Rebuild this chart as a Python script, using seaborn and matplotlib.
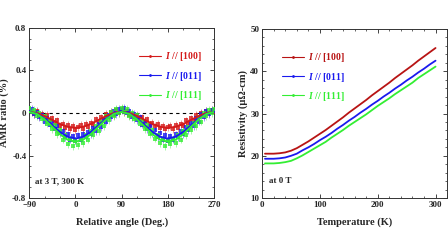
import matplotlib
matplotlib.use("Agg")
import matplotlib.pyplot as plt
import numpy as np
import pandas as pd
import seaborn as sns
from matplotlib import ticker
from matplotlib.lines import Line2D

# ---- data: AMR vs relative angle ----
angle = list(range(-90, 275, 5))
amr_100 = [0.03, 0.01, -0.01, 0.02, -0.03, -0.01, -0.05, -0.02, -0.07, -0.05, -0.09, -0.07, -0.12, -0.10,
           -0.14, -0.11, -0.15, -0.12, -0.16, -0.13, -0.11, -0.15, -0.10, -0.13, -0.09, -0.11, -0.06, -0.08,
           -0.04, -0.06, -0.01, -0.03, 0.01, -0.02, 0.03, 0.00, 0.04,
           0.01, 0.02, -0.02, -0.01, -0.04, -0.03, -0.06, -0.04, -0.08, -0.06, -0.11, -0.09, -0.12, -0.10,
           -0.14, -0.12, -0.15, -0.13, -0.12, -0.15, -0.11, -0.14, -0.10, -0.12, -0.07, -0.09, -0.05, -0.07,
           -0.02, -0.04, 0.00, -0.02, 0.02, 0.00, 0.03, 0.01]
amr_011 = [0.02, 0.04, -0.01, 0.01, -0.04, -0.02, -0.08, -0.05, -0.11, -0.09, -0.15, -0.12, -0.19, -0.17,
           -0.23, -0.20, -0.25, -0.22, -0.26, -0.21, -0.25, -0.20, -0.23, -0.18, -0.20, -0.14, -0.17, -0.10,
           -0.13, -0.06, -0.08, -0.02, -0.04, 0.02, -0.01, 0.04, 0.03,
           0.05, 0.00, 0.02, -0.04, -0.01, -0.07, -0.04, -0.11, -0.08, -0.15, -0.12, -0.19, -0.16, -0.23,
           -0.19, -0.25, -0.21, -0.26, -0.22, -0.25, -0.20, -0.23, -0.17, -0.20, -0.13, -0.16, -0.09, -0.12,
           -0.05, -0.08, -0.01, -0.04, 0.02, -0.01, 0.03, 0.02]
amr_111 = [0.05, 0.01, 0.03, -0.03, 0.00, -0.06, -0.03, -0.10, -0.07, -0.15, -0.11, -0.20, -0.16, -0.25,
           -0.21, -0.29, -0.24, -0.31, -0.26, -0.30, -0.24, -0.28, -0.21, -0.25, -0.17, -0.21, -0.12, -0.17,
           -0.08, -0.12, -0.03, -0.07, 0.01, -0.03, 0.04, 0.00, 0.05,
           0.01, 0.04, -0.03, 0.00, -0.06, -0.02, -0.10, -0.07, -0.15, -0.11, -0.20, -0.16, -0.24, -0.21,
           -0.28, -0.24, -0.31, -0.25, -0.29, -0.24, -0.28, -0.21, -0.25, -0.17, -0.21, -0.13, -0.16, -0.09,
           -0.12, -0.04, -0.08, 0.00, -0.03, 0.03, 0.00, 0.04]
amr_err = 0.035

fit_angle = list(range(-90, 285, 15))
fit_100 = [0.01, 0.0, -0.028, -0.065, -0.103, -0.13, -0.14, -0.13, -0.103, -0.065, -0.028, 0.0, 0.01,
           0.0, -0.028, -0.065, -0.103, -0.13, -0.14, -0.13, -0.103, -0.065, -0.028, 0.0, 0.01]
fit_011 = [0.01, -0.007, -0.053, -0.115, -0.178, -0.223, -0.24, -0.223, -0.178, -0.115, -0.053, -0.007, 0.01,
           -0.007, -0.053, -0.115, -0.178, -0.223, -0.24, -0.223, -0.178, -0.115, -0.053, -0.007, 0.01]
fit_111 = [0.01, -0.009, -0.06, -0.13, -0.20, -0.251, -0.27, -0.251, -0.20, -0.13, -0.06, -0.009, 0.01,
           -0.009, -0.06, -0.13, -0.20, -0.251, -0.27, -0.251, -0.20, -0.13, -0.06, -0.009, 0.01]

# ---- data: resistivity vs temperature ----
temp = [5, 10] + list(range(20, 310, 10))
rho_100 = [20.5, 20.5, 20.5, 20.6, 20.8, 21.2, 21.8, 22.6, 23.4, 24.3, 25.2, 26.1, 27.1, 28.1, 29.1, 30.2,
           31.2, 32.2, 33.2, 34.3, 35.3, 36.3, 37.3, 38.4, 39.4, 40.4, 41.4, 42.5, 43.5, 44.5, 45.5]
rho_011 = [19.3, 19.3, 19.3, 19.4, 19.6, 20.0, 20.5, 21.3, 22.0, 22.8, 23.7, 24.5, 25.4, 26.4, 27.3, 28.3,
           29.2, 30.2, 31.1, 32.1, 33.0, 34.0, 34.9, 35.9, 36.8, 37.8, 38.7, 39.7, 40.6, 41.6, 42.5]
rho_111 = [18.2, 18.2, 18.2, 18.3, 18.5, 18.8, 19.4, 20.1, 20.9, 21.7, 22.5, 23.3, 24.3, 25.2, 26.1, 27.1,
           28.0, 28.9, 29.8, 30.8, 31.8, 32.7, 33.6, 34.6, 35.5, 36.4, 37.3, 38.4, 39.3, 40.2, 41.1]

labels = [r"$\mathbfit{I}$ // [100]", r"$\mathbfit{I}$ // [011]", r"$\mathbfit{I}$ // [111]"]
colors = ["#d41a1a", "#1a1aee", "#33ee33"]
colors_r = ["#b81414", "#1a1aee", "#33ee33"]

sns.set_style("ticks")
plt.rcParams["font.family"] = ["Liberation Serif", "DejaVu Serif"]
plt.rcParams["font.weight"] = "bold"
plt.rcParams["axes.labelweight"] = "bold"
plt.rcParams["mathtext.fontset"] = "custom"
plt.rcParams["mathtext.bfit"] = "Liberation Serif:bold:italic"
plt.rcParams["mathtext.rm"] = "Liberation Serif:bold"

fig = plt.figure(figsize=(4.48, 2.52), dpi=100)
ax1 = fig.add_axes([0.065, 0.214, 0.413, 0.675])
ax2 = fig.add_axes([0.585, 0.214, 0.413, 0.671])

# left panel
ax1.axhline(0, color="black", ls=(0, (3, 3)), lw=0.8)
for y, fy, c, lab in zip([amr_100, amr_011, amr_111], [fit_100, fit_011, fit_111], colors, labels):
    ax1.errorbar(angle, y, yerr=amr_err, fmt="none", ecolor=c, elinewidth=0.5, alpha=0.6, zorder=2)
    sns.scatterplot(x=angle, y=y, ax=ax1, color=c, s=5, marker="s", linewidth=0, alpha=0.8, zorder=3)
    sns.lineplot(x=fit_angle, y=fy, ax=ax1, color=c, lw=1.4, zorder=4)

ax1.set_xlim(-90, 270)
ax1.set_ylim(-0.8, 0.8)
ax1.set_xticks([-90, 0, 90, 180, 270])
ax1.set_yticks([-0.8, -0.4, 0, 0.4, 0.8])
ax1.set_yticklabels(["-0.8", "-0.4", "0", "0.4", "0.8"])
ax1.xaxis.set_minor_locator(ticker.MultipleLocator(30))
ax1.yaxis.set_minor_locator(ticker.MultipleLocator(0.1))
ax1.set_xlabel("Relative angle (Deg.)", fontsize=7.5, labelpad=6)
ax1.set_ylabel("AMR ratio (%)", fontsize=7.5, labelpad=2)
ax1.text(-78, -0.66, "at 3 T, 300 K", fontsize=6.5, fontweight="bold")
h1 = [Line2D([], [], color=c, lw=0.8, marker=".", ms=2) for c in colors]
ax1.legend(h1, labels, loc="upper right", bbox_to_anchor=(0.98, 0.92), frameon=False, fontsize=7,
           labelcolor=colors, handlelength=2.3, handletextpad=0.4, labelspacing=0.65)

# right panel
for y, c in zip([rho_100, rho_011, rho_111], colors_r):
    sns.lineplot(x=temp, y=y, ax=ax2, color=c, lw=1.3)
ax2.set_xlim(0, 320)
ax2.set_ylim(10, 50)
ax2.set_xticks([0, 100, 200, 300])
ax2.set_yticks([10, 20, 30, 40, 50])
ax2.xaxis.set_minor_locator(ticker.MultipleLocator(20))
ax2.yaxis.set_minor_locator(ticker.MultipleLocator(2))
ax2.set_xlabel("Temperature (K)", fontsize=7.5, labelpad=6)
ax2.set_ylabel("Resistivity (\u03bc\u03a9-cm)", fontsize=7.5, labelpad=2)
ax2.text(12, 13.5, "at 0 T", fontsize=6.5, fontweight="bold")
h2 = [Line2D([], [], color=c, lw=0.8, marker=".", ms=2) for c in colors_r]
ax2.legend(h2, labels, loc="upper left", bbox_to_anchor=(0.06, 0.92), frameon=False, fontsize=7,
           labelcolor=colors_r, handlelength=2.3, handletextpad=0.4, labelspacing=0.65)

for ax in (ax1, ax2):
    ax.tick_params(which="both", direction="in", top=True, right=True, labelsize=6.5, pad=2)
    ax.tick_params(which="major", length=3, width=0.6)
    ax.tick_params(which="minor", length=1.5, width=0.5)
    for s in ax.spines.values():
        s.set_linewidth(0.7)
        s.set_color("#333333")

fig.savefig("out.png", dpi=100)
